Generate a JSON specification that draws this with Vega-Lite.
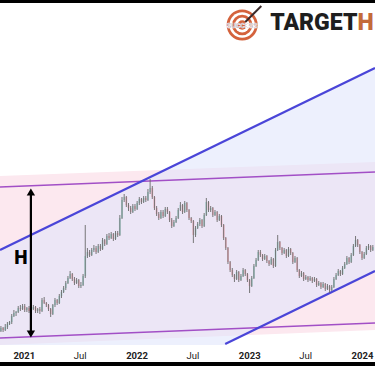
{
  "$schema": "https://vega.github.io/schema/vega-lite/v6.json",
  "width": 375,
  "height": 359,
  "autosize": {"type": "none"},
  "padding": {"left": 0, "right": 0, "top": 3, "bottom": 4},
  "background": "#000000",
  "config": {"view": {"fill": "#ffffff", "stroke": null}},
  "datasets": {
    "candles": [
      {"d":"2020-10-19","o":31,"h":36,"l":30,"c":34},
      {"d":"2020-10-26","o":34,"h":35,"l":30,"c":32},
      {"d":"2020-11-02","o":32,"h":38,"l":31,"c":35},
      {"d":"2020-11-09","o":35,"h":40,"l":33,"c":38},
      {"d":"2020-11-16","o":38,"h":41,"l":37,"c":40},
      {"d":"2020-11-23","o":40,"h":48,"l":38,"c":46},
      {"d":"2020-11-30","o":46,"h":52,"l":45,"c":49},
      {"d":"2020-12-07","o":49,"h":51,"l":46,"c":50},
      {"d":"2020-12-14","o":50,"h":56,"l":49,"c":54},
      {"d":"2020-12-21","o":54,"h":57,"l":51,"c":53},
      {"d":"2020-12-28","o":53,"h":58,"l":52,"c":56},
      {"d":"2021-01-04","o":56,"h":58,"l":50,"c":52},
      {"d":"2021-01-11","o":52,"h":55,"l":50,"c":54},
      {"d":"2021-01-18","o":54,"h":56,"l":49,"c":51},
      {"d":"2021-01-25","o":51,"h":55,"l":50,"c":53},
      {"d":"2021-02-01","o":53,"h":57,"l":52,"c":55},
      {"d":"2021-02-08","o":55,"h":56,"l":49,"c":51},
      {"d":"2021-02-15","o":51,"h":54,"l":49,"c":53},
      {"d":"2021-02-22","o":53,"h":55,"l":48,"c":51},
      {"d":"2021-03-01","o":51,"h":64,"l":50,"c":62},
      {"d":"2021-03-08","o":62,"h":65,"l":58,"c":59},
      {"d":"2021-03-15","o":59,"h":60,"l":55,"c":57},
      {"d":"2021-03-22","o":57,"h":58,"l":51,"c":53},
      {"d":"2021-03-29","o":53,"h":54,"l":45,"c":48},
      {"d":"2021-04-05","o":48,"h":58,"l":47,"c":57},
      {"d":"2021-04-12","o":57,"h":64,"l":55,"c":62},
      {"d":"2021-04-19","o":62,"h":63,"l":57,"c":59},
      {"d":"2021-04-26","o":59,"h":68,"l":58,"c":66},
      {"d":"2021-05-03","o":66,"h":72,"l":64,"c":70},
      {"d":"2021-05-10","o":70,"h":76,"l":69,"c":74},
      {"d":"2021-05-17","o":74,"h":81,"l":72,"c":79},
      {"d":"2021-05-24","o":79,"h":86,"l":78,"c":84},
      {"d":"2021-05-31","o":84,"h":91,"l":83,"c":88},
      {"d":"2021-06-07","o":88,"h":89,"l":81,"c":83},
      {"d":"2021-06-14","o":83,"h":85,"l":77,"c":79},
      {"d":"2021-06-21","o":79,"h":84,"l":78,"c":82},
      {"d":"2021-06-28","o":82,"h":83,"l":74,"c":76},
      {"d":"2021-07-05","o":76,"h":80,"l":74,"c":77},
      {"d":"2021-07-12","o":77,"h":88,"l":76,"c":86},
      {"d":"2021-07-19","o":86,"h":137,"l":84,"c":106},
      {"d":"2021-07-26","o":106,"h":114,"l":104,"c":110},
      {"d":"2021-08-02","o":110,"h":112,"l":105,"c":107},
      {"d":"2021-08-09","o":107,"h":114,"l":106,"c":112},
      {"d":"2021-08-16","o":112,"h":117,"l":110,"c":114},
      {"d":"2021-08-23","o":114,"h":116,"l":108,"c":110},
      {"d":"2021-08-30","o":110,"h":118,"l":109,"c":116},
      {"d":"2021-09-06","o":116,"h":118,"l":111,"c":113},
      {"d":"2021-09-13","o":113,"h":124,"l":112,"c":122},
      {"d":"2021-09-20","o":122,"h":123,"l":116,"c":118},
      {"d":"2021-09-27","o":118,"h":128,"l":117,"c":126},
      {"d":"2021-10-04","o":126,"h":129,"l":122,"c":124},
      {"d":"2021-10-11","o":124,"h":130,"l":123,"c":128},
      {"d":"2021-10-18","o":128,"h":129,"l":121,"c":123},
      {"d":"2021-10-25","o":123,"h":131,"l":122,"c":129},
      {"d":"2021-11-01","o":129,"h":131,"l":125,"c":127},
      {"d":"2021-11-08","o":127,"h":147,"l":126,"c":144},
      {"d":"2021-11-15","o":144,"h":165,"l":143,"c":162},
      {"d":"2021-11-22","o":162,"h":168,"l":160,"c":165},
      {"d":"2021-11-29","o":165,"h":166,"l":155,"c":157},
      {"d":"2021-12-06","o":157,"h":159,"l":151,"c":154},
      {"d":"2021-12-13","o":154,"h":156,"l":148,"c":150},
      {"d":"2021-12-20","o":150,"h":158,"l":149,"c":156},
      {"d":"2021-12-27","o":156,"h":158,"l":151,"c":153},
      {"d":"2022-01-03","o":153,"h":161,"l":152,"c":159},
      {"d":"2022-01-10","o":159,"h":165,"l":157,"c":163},
      {"d":"2022-01-17","o":163,"h":164,"l":158,"c":160},
      {"d":"2022-01-24","o":160,"h":166,"l":159,"c":164},
      {"d":"2022-01-31","o":164,"h":166,"l":160,"c":162},
      {"d":"2022-02-07","o":162,"h":173,"l":161,"c":170},
      {"d":"2022-02-14","o":170,"h":183,"l":168,"c":174},
      {"d":"2022-02-21","o":174,"h":176,"l":163,"c":165},
      {"d":"2022-02-28","o":165,"h":166,"l":152,"c":154},
      {"d":"2022-03-07","o":154,"h":156,"l":146,"c":148},
      {"d":"2022-03-14","o":148,"h":150,"l":142,"c":144},
      {"d":"2022-03-21","o":144,"h":152,"l":143,"c":150},
      {"d":"2022-03-28","o":150,"h":152,"l":144,"c":146},
      {"d":"2022-04-04","o":146,"h":155,"l":145,"c":153},
      {"d":"2022-04-11","o":153,"h":155,"l":148,"c":150},
      {"d":"2022-04-18","o":150,"h":151,"l":140,"c":142},
      {"d":"2022-04-25","o":142,"h":144,"l":134,"c":136},
      {"d":"2022-05-02","o":136,"h":142,"l":135,"c":140},
      {"d":"2022-05-09","o":140,"h":146,"l":139,"c":144},
      {"d":"2022-05-16","o":144,"h":154,"l":143,"c":152},
      {"d":"2022-05-23","o":152,"h":160,"l":151,"c":157},
      {"d":"2022-05-30","o":157,"h":158,"l":148,"c":150},
      {"d":"2022-06-06","o":150,"h":161,"l":149,"c":159},
      {"d":"2022-06-13","o":159,"h":160,"l":150,"c":152},
      {"d":"2022-06-20","o":152,"h":153,"l":142,"c":144},
      {"d":"2022-06-27","o":144,"h":145,"l":139,"c":141},
      {"d":"2022-07-04","o":141,"h":142,"l":119,"c":127},
      {"d":"2022-07-11","o":127,"h":136,"l":125,"c":134},
      {"d":"2022-07-18","o":134,"h":140,"l":133,"c":138},
      {"d":"2022-07-25","o":138,"h":144,"l":136,"c":142},
      {"d":"2022-08-01","o":142,"h":143,"l":134,"c":136},
      {"d":"2022-08-08","o":136,"h":149,"l":135,"c":147},
      {"d":"2022-08-15","o":147,"h":164,"l":146,"c":160},
      {"d":"2022-08-22","o":160,"h":161,"l":150,"c":152},
      {"d":"2022-08-29","o":152,"h":156,"l":150,"c":154},
      {"d":"2022-09-05","o":154,"h":155,"l":145,"c":147},
      {"d":"2022-09-12","o":147,"h":152,"l":146,"c":150},
      {"d":"2022-09-19","o":150,"h":151,"l":140,"c":142},
      {"d":"2022-09-26","o":142,"h":148,"l":141,"c":146},
      {"d":"2022-10-03","o":146,"h":147,"l":135,"c":137},
      {"d":"2022-10-10","o":137,"h":138,"l":122,"c":124},
      {"d":"2022-10-17","o":124,"h":125,"l":112,"c":114},
      {"d":"2022-10-24","o":114,"h":115,"l":98,"c":100},
      {"d":"2022-10-31","o":100,"h":101,"l":90,"c":92},
      {"d":"2022-11-07","o":92,"h":94,"l":85,"c":87},
      {"d":"2022-11-14","o":87,"h":88,"l":80,"c":83},
      {"d":"2022-11-21","o":83,"h":92,"l":82,"c":90},
      {"d":"2022-11-28","o":90,"h":91,"l":80,"c":82},
      {"d":"2022-12-05","o":82,"h":88,"l":81,"c":86},
      {"d":"2022-12-12","o":86,"h":94,"l":85,"c":92},
      {"d":"2022-12-19","o":92,"h":93,"l":86,"c":88},
      {"d":"2022-12-26","o":88,"h":89,"l":80,"c":82},
      {"d":"2023-01-02","o":82,"h":83,"l":69,"c":76},
      {"d":"2023-01-09","o":76,"h":86,"l":75,"c":84},
      {"d":"2023-01-16","o":84,"h":98,"l":83,"c":96},
      {"d":"2023-01-23","o":96,"h":104,"l":95,"c":102},
      {"d":"2023-01-30","o":102,"h":112,"l":101,"c":110},
      {"d":"2023-02-06","o":110,"h":112,"l":105,"c":107},
      {"d":"2023-02-13","o":107,"h":108,"l":101,"c":103},
      {"d":"2023-02-20","o":103,"h":108,"l":102,"c":106},
      {"d":"2023-02-27","o":106,"h":107,"l":99,"c":101},
      {"d":"2023-03-06","o":101,"h":102,"l":96,"c":98},
      {"d":"2023-03-13","o":98,"h":105,"l":97,"c":103},
      {"d":"2023-03-20","o":103,"h":104,"l":94,"c":96},
      {"d":"2023-03-27","o":96,"h":114,"l":95,"c":112},
      {"d":"2023-04-03","o":112,"h":127,"l":111,"c":120},
      {"d":"2023-04-10","o":120,"h":121,"l":112,"c":114},
      {"d":"2023-04-17","o":114,"h":115,"l":107,"c":109},
      {"d":"2023-04-24","o":109,"h":114,"l":108,"c":112},
      {"d":"2023-05-01","o":112,"h":113,"l":104,"c":106},
      {"d":"2023-05-08","o":106,"h":115,"l":105,"c":113},
      {"d":"2023-05-15","o":113,"h":114,"l":107,"c":109},
      {"d":"2023-05-22","o":109,"h":110,"l":98,"c":100},
      {"d":"2023-05-29","o":100,"h":106,"l":99,"c":104},
      {"d":"2023-06-05","o":104,"h":105,"l":90,"c":92},
      {"d":"2023-06-12","o":92,"h":93,"l":84,"c":86},
      {"d":"2023-06-19","o":86,"h":91,"l":85,"c":89},
      {"d":"2023-06-26","o":89,"h":90,"l":81,"c":83},
      {"d":"2023-07-03","o":83,"h":87,"l":82,"c":85},
      {"d":"2023-07-10","o":85,"h":86,"l":80,"c":82},
      {"d":"2023-07-17","o":82,"h":86,"l":81,"c":84},
      {"d":"2023-07-24","o":84,"h":85,"l":79,"c":81},
      {"d":"2023-07-31","o":81,"h":85,"l":80,"c":83},
      {"d":"2023-08-07","o":83,"h":84,"l":75,"c":77},
      {"d":"2023-08-14","o":77,"h":81,"l":76,"c":79},
      {"d":"2023-08-21","o":79,"h":80,"l":73,"c":75},
      {"d":"2023-08-28","o":75,"h":80,"l":74,"c":78},
      {"d":"2023-09-04","o":78,"h":79,"l":71,"c":73},
      {"d":"2023-09-11","o":73,"h":78,"l":72,"c":76},
      {"d":"2023-09-18","o":76,"h":77,"l":69,"c":72},
      {"d":"2023-09-25","o":72,"h":77,"l":71,"c":75},
      {"d":"2023-10-02","o":75,"h":85,"l":74,"c":83},
      {"d":"2023-10-09","o":83,"h":89,"l":82,"c":87},
      {"d":"2023-10-16","o":87,"h":93,"l":86,"c":91},
      {"d":"2023-10-23","o":91,"h":92,"l":86,"c":88},
      {"d":"2023-10-30","o":88,"h":96,"l":87,"c":94},
      {"d":"2023-11-06","o":94,"h":100,"l":93,"c":98},
      {"d":"2023-11-13","o":98,"h":106,"l":97,"c":104},
      {"d":"2023-11-20","o":104,"h":105,"l":98,"c":100},
      {"d":"2023-11-27","o":100,"h":109,"l":99,"c":107},
      {"d":"2023-12-04","o":107,"h":118,"l":106,"c":116},
      {"d":"2023-12-11","o":116,"h":126,"l":115,"c":122},
      {"d":"2023-12-18","o":122,"h":123,"l":115,"c":117},
      {"d":"2023-12-25","o":117,"h":118,"l":108,"c":110},
      {"d":"2024-01-01","o":110,"h":111,"l":102,"c":104},
      {"d":"2024-01-08","o":104,"h":110,"l":103,"c":108},
      {"d":"2024-01-15","o":108,"h":116,"l":107,"c":114},
      {"d":"2024-01-22","o":114,"h":118,"l":112,"c":116},
      {"d":"2024-01-29","o":116,"h":117,"l":110,"c":112},
      {"d":"2024-02-05","o":112,"h":117,"l":111,"c":115}
    ],
    "pinkBand": [
      {"d":"2020-10-16","v":186,"v2":17},
      {"d":"2024-02-12","v":200,"v2":32}
    ],
    "blueBand": [
      {"d":"2020-10-16","v":112,"v2":17},
      {"d":"2022-10-15","v":221,"v2":17},
      {"d":"2024-02-12","v":294,"v2":91}
    ],
    "purpleLines": [
      {"k":"upper","d":"2020-10-16","v":175},
      {"k":"upper","d":"2024-02-12","v":190},
      {"k":"lower","d":"2020-10-16","v":24},
      {"k":"lower","d":"2024-02-12","v":39}
    ],
    "blueLines": [
      {"k":"upper","d":"2020-10-16","v":112},
      {"k":"upper","d":"2024-02-12","v":294},
      {"k":"lower","d":"2022-10-15","v":18},
      {"k":"lower","d":"2024-02-12","v":91}
    ]
  },
  "layer": [
    {
      "encoding": {
        "x": {
          "field": "d",
          "type": "temporal",
          "scale": {"type": "utc", "domain": ["2020-10-16", "2024-02-12"], "nice": false, "padding": 0},
          "axis": {
            "title": null,
            "values": [
              {"year":2021,"month":1,"date":1,"utc":true},
              {"year":2021,"month":7,"date":1,"utc":true},
              {"year":2022,"month":1,"date":1,"utc":true},
              {"year":2022,"month":7,"date":1,"utc":true},
              {"year":2023,"month":1,"date":1,"utc":true},
              {"year":2023,"month":7,"date":1,"utc":true},
              {"year":2024,"month":1,"date":1,"utc":true}
            ],
            "labelExpr": "utcmonth(datum.value) == 0 ? utcFormat(datum.value, '%Y') : 'Jul'",
            "labelFontWeight": {"condition": {"test": "utcmonth(datum.value) == 0", "value": "bold"}, "value": "normal"},
            "offset": -17,
            "ticks": false,
            "tickSize": 0,
            "domain": false,
            "grid": false,
            "labelPadding": 5,
            "labelFont": "Roboto",
            "labelFontSize": 9.5,
            "labelColor": "#222222",
            "labelFlush": false,
            "labelOverlap": false
          }
        },
        "y": {
          "field": "v",
          "type": "quantitative",
          "scale": {"domain": [0, 359], "nice": false, "zero": false, "padding": 0},
          "axis": null
        }
      },
      "layer": [
        {
          "data": {"name": "pinkBand"},
          "mark": {"type": "area", "color": "#fce8ef", "opacity": 1},
          "encoding": {"y2": {"field": "v2"}}
        },
        {
          "data": {"name": "blueBand"},
          "mark": {"type": "area", "color": "#dfe4fb", "opacity": 0.55},
          "encoding": {"y2": {"field": "v2"}}
        },
        {
          "data": {"name": "purpleLines"},
          "mark": {"type": "line", "color": "#a24fc6", "strokeWidth": 1.6},
          "encoding": {"detail": {"field": "k"}}
        },
        {
          "data": {"name": "blueLines"},
          "mark": {"type": "line", "color": "#4a45d8", "strokeWidth": 2.2},
          "encoding": {"detail": {"field": "k"}}
        },
        {
          "data": {"name": "candles"},
          "mark": {"type": "bar", "width": 1.8, "opacity": 0.85},
          "encoding": {
            "y": {"field": "o", "type": "quantitative", "scale": {"domain": [0, 359], "nice": false, "zero": false, "padding": 0}},
            "y2": {"field": "c"},
            "color": {"condition": {"test": "datum.c >= datum.o", "value": "#9fd2cf"}, "value": "#f2aab8"}
          }
        },
        {
          "data": {"name": "candles"},
          "mark": {"type": "rule", "strokeWidth": 0.9, "color": "#6a6a6a"},
          "encoding": {
            "y": {"field": "l", "type": "quantitative", "scale": {"domain": [0, 359], "nice": false, "zero": false, "padding": 0}},
            "y2": {"field": "h"}
          }
        }
      ]
    },
    {
      "data": {"values": [{"a": 1}]},
      "layer": [
        {
          "mark": {"type": "rule", "color": "#000000", "strokeWidth": 2.2},
          "encoding": {
            "x": {"datum": 1611446400000, "type": "temporal", "scale": {"type": "utc"}},
            "y": {"datum": 30, "type": "quantitative"},
            "y2": {"datum": 168}
          }
        },
        {
          "mark": {"type": "point", "shape": "triangle-up", "filled": true, "color": "#000000", "size": 70, "opacity": 1},
          "encoding": {
            "x": {"datum": 1611446400000, "type": "temporal", "scale": {"type": "utc"}},
            "y": {"datum": 170, "type": "quantitative"}
          }
        },
        {
          "mark": {"type": "point", "shape": "triangle-down", "filled": true, "color": "#000000", "size": 70, "opacity": 1},
          "encoding": {
            "x": {"datum": 1611446400000, "type": "temporal", "scale": {"type": "utc"}},
            "y": {"datum": 28, "type": "quantitative"}
          }
        },
        {
          "mark": {"type": "text", "text": "H", "font": "Liberation Sans Narrow, DejaVu Sans Condensed, sans-serif", "fontWeight": "bold", "fontSize": 19, "color": "#000000", "align": "center", "baseline": "middle"},
          "encoding": {
            "x": {"datum": 1608681600000, "type": "temporal", "scale": {"type": "utc"}},
            "y": {"datum": 104, "type": "quantitative"}
          }
        },
        {
          "mark": {"type": "point", "shape": "circle", "filled": true, "color": "#d4623c", "size": 961, "opacity": 1},
          "encoding": {
            "x": {"datum": 1670544000000, "type": "temporal", "scale": {"type": "utc"}},
            "y": {"datum": 337, "type": "quantitative"}
          }
        },
        {
          "mark": {"type": "point", "shape": "circle", "filled": true, "color": "#ffffff", "size": 650, "opacity": 1},
          "encoding": {
            "x": {"datum": 1670544000000, "type": "temporal", "scale": {"type": "utc"}},
            "y": {"datum": 337, "type": "quantitative"}
          }
        },
        {
          "mark": {"type": "point", "shape": "circle", "filled": true, "color": "#d4623c", "size": 420, "opacity": 1},
          "encoding": {
            "x": {"datum": 1670544000000, "type": "temporal", "scale": {"type": "utc"}},
            "y": {"datum": 337, "type": "quantitative"}
          }
        },
        {
          "mark": {"type": "point", "shape": "circle", "filled": true, "color": "#ffffff", "size": 220, "opacity": 1},
          "encoding": {
            "x": {"datum": 1670544000000, "type": "temporal", "scale": {"type": "utc"}},
            "y": {"datum": 337, "type": "quantitative"}
          }
        },
        {
          "mark": {"type": "point", "shape": "circle", "filled": true, "color": "#d4623c", "size": 90, "opacity": 1},
          "encoding": {
            "x": {"datum": 1670544000000, "type": "temporal", "scale": {"type": "utc"}},
            "y": {"datum": 337, "type": "quantitative"}
          }
        },
        {
          "mark": {"type": "rule", "color": "#3a2a2a", "strokeWidth": 2},
          "encoding": {
            "x": {"datum": 1675900800000, "type": "temporal", "scale": {"type": "utc"}},
            "x2": {"datum": 1671408000000},
            "y": {"datum": 356, "type": "quantitative"},
            "y2": {"datum": 340}
          }
        },
        {
          "mark": {"type": "text", "text": "SUCCESS", "font": "Roboto", "fontWeight": "bold", "fontSize": 7, "color": "#3b1745", "align": "center", "baseline": "middle", "stroke": "#ffffff", "strokeWidth": 0.6},
          "encoding": {
            "x": {"datum": 1670544000000, "type": "temporal", "scale": {"type": "utc"}},
            "y": {"datum": 336, "type": "quantitative"}
          }
        },
        {
          "mark": {"type": "text", "text": "TARGET", "font": "Roboto", "fontWeight": 900, "fontSize": 23, "color": "#1e1e1e", "align": "left", "baseline": "middle"},
          "encoding": {
            "x": {"datum": 1678406400000, "type": "temporal", "scale": {"type": "utc"}},
            "y": {"datum": 339, "type": "quantitative"}
          }
        },
        {
          "mark": {"type": "text", "text": "H", "font": "Roboto", "fontWeight": 900, "fontSize": 23, "color": "#c46a3a", "align": "left", "baseline": "middle", "clip": true},
          "encoding": {
            "x": {"datum": 1702771200000, "type": "temporal", "scale": {"type": "utc"}},
            "y": {"datum": 339, "type": "quantitative"}
          }
        }
      ]
    }
  ]
}
